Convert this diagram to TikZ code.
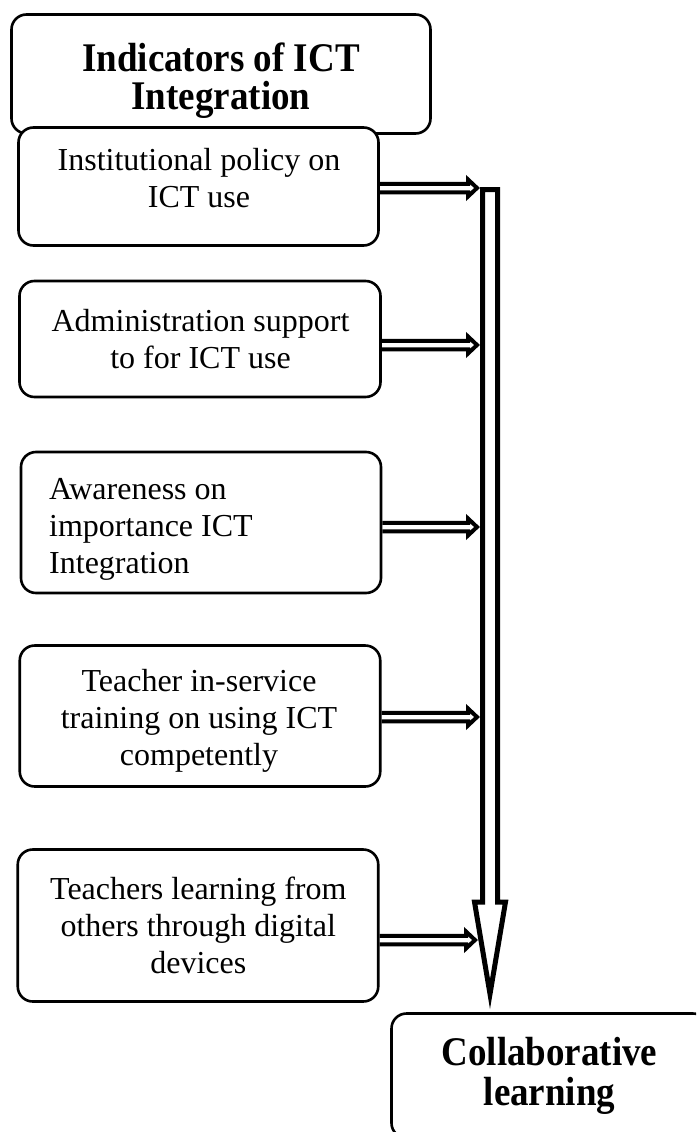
\documentclass[tikz,border=0pt]{standalone}
\usepackage{fontspec}
\setmainfont{Liberation Serif}
\usetikzlibrary{calc}
\newcommand\dblarr[2]{%
  \draw[smallarr] ($(#1 |- #2)+(0,-4.25)$) -- ($(#2)+(-9,-4.25)$) -- ($(#2)+(-9,-8.5)$) -- (#2)
    -- ($(#2)+(-9,8.5)$) -- ($(#2)+(-9,4.25)$) -- ($(#1 |- #2)+(0,4.25)$);}
\newcommand\tallstack[1]{\scalebox{1}[1.1]{\vbox{\halign{\hfil##\hfil\cr#1\crcr}}}}
\begin{document}
\begin{tikzpicture}[x=1pt,y=-1pt,
  box/.style={draw=black, line width=2.6pt, rounded corners=15pt, fill=white, inner sep=0pt},
  txt/.style={inner sep=0pt, align=center, font=\fontsize{32}{37}\selectfont},
  txtl/.style={inner sep=0pt, align=left, font=\fontsize{32}{37}\selectfont},
  bold/.style={inner sep=0pt, font=\fontsize{37}{34.5}\selectfont\bfseries},
  boldc/.style={inner sep=0pt, font=\fontsize{37}{36.4}\selectfont\bfseries},
  smallarr/.style={draw=black, line width=4pt, line join=miter},
  bigarr/.style={draw=black, line width=5pt, line join=miter, fill=white}]
\useasboundingbox (0,0) rectangle (696,1132);
\clip (0,0) rectangle (696,1132);

% boxes
\node[box, minimum width=419pt, minimum height=119pt] (title) at (221,74) {};
\node[bold] (titlet) at (221,80.5) {\tallstack{Indicators of ICT\cr Integration}};

\node[box, minimum width=360pt, minimum height=118pt] (b1) at (198.5,186.5) {};
\node[txt] (b1t) at (199,177.6) {Institutional policy on\\ICT use};

\node[box, minimum width=361pt, minimum height=116pt] (b2) at (200,339) {};
\node[txt] (b2t) at (200.5,338.8) {Administration support\\to for ICT use};

\node[box, minimum width=360pt, minimum height=141pt] (b3) at (201,522.5) {};
\node[txtl, anchor=west] (b3t) at (49,528.9) {Awareness on\\importance ICT\\Integration};

\node[box, minimum width=360.5pt, minimum height=141pt] (b4) at (200,716) {};
\node[txt] (b4t) at (199,721) {Teacher in-service\\training on using ICT\\competently};

\node[box, minimum width=360.5pt, minimum height=152pt] (b5) at (198,925.5) {};
\node[txt] (b5t) at (198.3,925.5) {Teachers learning from\\others through digital\\devices};

\node[box, minimum width=316.5pt, minimum height=124.5pt] (col) at (549.75,1075.75) {};
\node[boldc] (colt) at (549.5,1075.5) {\tallstack{Collaborative\cr learning}};

% big arrow
\coordinate (sTL) at (482.5,189.5);
\coordinate (sTR) at (497.5,189.5);
\coordinate (hR) at (497.5,902);
\coordinate (hRo) at (505.5,902);
\coordinate (tip) at (490,994);
\coordinate (hLo) at (474.5,902);
\coordinate (hL) at (482.5,902);
\draw[bigarr] (sTL) -- (sTR) -- (hR) -- (hRo) -- (tip) -- (hLo) -- (hL) -- cycle;

% small arrows
\coordinate (t1) at (477,188);
\coordinate (t2) at (477,345);
\coordinate (t3) at (477,527);
\coordinate (t4) at (477,717);
\coordinate (t5) at (475,940);
\dblarr{b1.east}{t1}
\dblarr{b2.east}{t2}
\dblarr{b3.east}{t3}
\dblarr{b4.east}{t4}
\dblarr{b5.east}{t5}
\end{tikzpicture}
\end{document}
